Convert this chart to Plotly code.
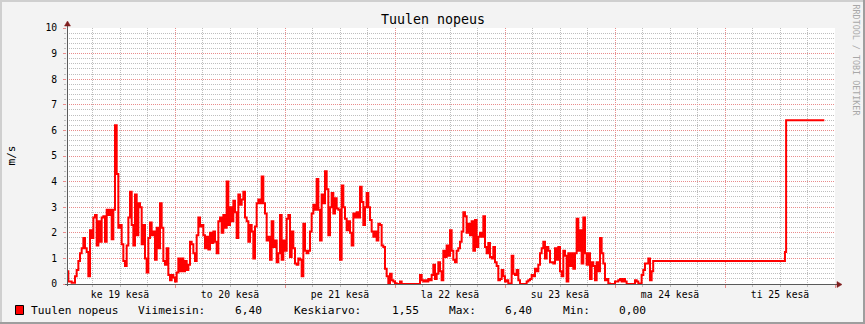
import plotly.graph_objects as go
from datetime import datetime, timedelta

# ---------------- data ----------------
series_name = "Tuulen nopeus"
unit_label = "m/s"
start_time = "2024-06-19 00:22"
step_seconds = 1309  # one sample per graph pixel-pair

wind_speed = [
    # 19.-20.6.
    0.5, 0.1, 0.1, 0.05, 0.05, 0.3, 0.55, 0.9, 1.2, 1.4,
    1.8, 1.4, 1.25, 0.3, 2.1, 1.8, 2.6, 2.7, 1.5, 2.45,
    1.65, 2.6, 2.65, 1.65, 2.9, 2.7, 2.9, 1.75, 2.9, 6.2,
    4.3, 2.2, 2.3, 1.55, 0.9, 0.7, 1.5, 2.6, 3.6, 2.3,
    1.5, 3.5, 1.9, 3.15, 3.0, 1.55, 2.3, 1.0, 0.45, 1.8,
    2.4, 1.9, 2.05, 0.95, 2.2, 1.4, 3.15, 2.2, 0.9, 0.75,
    1.4, 0.35, 0.15, 0.35, 0.25, 0.1, 0.45, 1.0, 0.5, 1.0,
    0.5, 0.9, 0.55, 0.75, 1.65, 1.55, 1.2, 0.9, 1.9, 2.6,
    2.25, 2.3, 1.9, 1.4, 1.85, 1.35, 2.0, 1.6, 2.05, 1.65,
    1.2, 2.45, 2.6, 2.0, 2.7, 2.2, 4.0, 2.3, 3.0, 2.45,
    3.25, 2.8, 1.8, 3.5, 3.1, 3.3, 3.6, 2.6, 2.45, 1.65,
    2.3, 2.05, 1.0,
    # 20.-22.6.
    2.25, 3.15, 3.3, 3.15, 4.2, 3.15, 2.75, 1.7, 1.85, 0.95,
    2.45, 1.45, 1.7, 0.85, 1.2, 2.7, 0.95, 1.7, 1.3, 2.55,
    2.7, 1.05, 2.05, 1.4, 0.8, 0.75, 1.0, 0.95, 0.3, 2.35,
    1.3, 1.2, 1.3, 2.05, 2.75, 3.1, 2.9, 4.1, 2.9, 1.7,
    3.5, 3.15, 4.4, 3.7, 1.9, 3.0, 3.55, 2.75, 3.35, 2.95,
    2.9, 0.95, 3.85, 3.0, 2.55, 2.1, 2.45, 2.0, 1.5, 2.75,
    2.6, 2.8, 2.6, 3.8, 3.2, 2.3, 3.0, 3.55, 3.0, 2.5,
    2.05, 1.85, 2.05, 1.7, 2.35, 2.3, 1.5, 1.45, 0.6, 0.3,
    0.03, 0.4, 0.15, 0.1, 0.03, 0, 0, 0.1, 0, 0,
    0, 0, 0, 0, 0, 0, 0, 0, 0, 0.35,
    0.15, 0.1, 0.15, 0.1, 0.2, 0.15, 0.35, 0.75, 0.2, 0.4,
    0.85,
    # 22.-23.6.
    0.5, 0.15, 1.3, 1.05, 1.5, 1.1, 2.1, 1.3, 0.95, 0.85,
    1.3, 1.4, 1.65, 2.05, 2.8, 2.65, 2.0, 2.35, 1.9, 2.45,
    1.3, 2.5, 1.45, 1.85, 2.0, 1.85, 2.65, 1.45, 1.2, 1.6,
    1.05, 1.0, 1.45, 0.85, 0.7, 0.15, 0.2, 0.55, 0.3, 0.1,
    0.15, 0.02, 0.02, 1.1, 0.4, 0.35, 0.55, 0.15, 0, 0,
    0, 0, 0.1, 0.15, 0.2, 0.35, 0.3, 0.6, 0.5, 0.75,
    1.2, 1.4, 1.65, 1.0, 1.45, 1.3, 0.85, 0.85, 0.8, 1.4,
    0.95, 1.45, 0.5, 0.3, 1.3, 1.1, 0.1, 1.2, 0.7, 1.2,
    0.6, 1.2, 2.55, 1.3, 2.1, 0.8, 2.6, 1.2, 0.75, 1.2,
    0.2, 0.85, 0.7, 0.15, 0.85, 0.5, 1.8, 1.2, 0.8, 0.15,
    0.2, 0.02, 0, 0, 0, 0.1, 0.1, 0.15, 0.2, 0.1,
    0.2,
    # 24.6. early hours
    0.1, 0, 0, 0, 0, 0, 0.15, 0.1, 0, 0.02,
    0.35, 0.55, 0.8, 0.8, 1.0, 0.15, 0.5,
]

tail_times = ["2024-06-24 08:20", "2024-06-25 13:05", "2024-06-25 13:20", "2024-06-25 21:40"]
tail_speed = [0.9, 1.25, 6.4, 6.4]

day_ticks = ["2024-06-19 12:00", "2024-06-20 12:00", "2024-06-21 12:00", "2024-06-22 12:00",
             "2024-06-23 12:00", "2024-06-24 12:00", "2024-06-25 12:00"]
day_labels = ["ke 19 kesä", "to 20 kesä", "pe 21 kesä", "la 22 kesä",
              "su 23 kesä", "ma 24 kesä", "ti 25 kesä"]

legend_labels = ["Viimeisin:", "Keskiarvo:", "Max:", "Min:"]
legend_values = ["6,40", "1,55", "6,40", "0,00"]

x_range = ["2024-06-19 00:26:11", "2024-06-26 00:00"]
y_range = [0, 10]

# ---------------- build ----------------
t0 = datetime.fromisoformat(start_time)
times = [t0 + timedelta(seconds=step_seconds * i) for i in range(len(wind_speed))]
times += [datetime.fromisoformat(t) for t in tail_times]
values = wind_speed + tail_speed

# grid positions (minor positions skip the major ones so the red lines stay visible)
day0 = datetime(2024, 6, 19)
minor_x = [day0 + timedelta(hours=6 * k) for k in range(29) if k % 4 != 0]
minor_y = [round(0.2 * k, 1) for k in range(51) if k % 5 != 0]

W, H = 865, 324
L, R, T, B = 67, 835, 28, 284
FONT = "DejaVu Sans Mono"


def px(x):
    return (x - L) / (R - L)


def py(y):
    return (B - y) / (B - T)


fig = go.Figure()
fig.add_trace(go.Scatter(x=times, y=values, mode="lines",
                         line=dict(color="#FF0000", width=2, shape="hv"),
                         hoverinfo="skip", showlegend=False))
# empty helper traces so the overlay axes (grids / labels) are drawn
fig.add_trace(go.Scatter(x=[], y=[], xaxis="x2", yaxis="y", showlegend=False, hoverinfo="skip"))
fig.add_trace(go.Scatter(x=[], y=[], xaxis="x3", yaxis="y", showlegend=False, hoverinfo="skip"))
fig.add_trace(go.Scatter(x=[], y=[], xaxis="x", yaxis="y2", showlegend=False, hoverinfo="skip"))

MAJ = "rgb(233,140,140)"
MIN = "rgb(190,190,190)"
DOT = "1px,1px"

fig.update_layout(
    width=W, height=H,
    margin=dict(l=L, r=W - R, t=T, b=H - B),
    paper_bgcolor="#F3F3F3", plot_bgcolor="#FFFFFF",
    showlegend=False,
    font=dict(family=FONT, color="#000000"),
    # minor (6 h) grid
    xaxis=dict(
        type="date", range=x_range,
        tickmode="array", tickvals=minor_x,
        showticklabels=False, showgrid=True, gridcolor=MIN, griddash=DOT, gridwidth=1,
        ticks="outside", ticklen=2, tickcolor=MIN, zeroline=False, showline=False,
    ),
    # major (day) grid
    xaxis2=dict(
        type="date", range=x_range, overlaying="x", anchor="y", side="bottom",
        tickmode="linear", tick0="2024-06-19 00:00", dtick=86400000,
        showticklabels=False, showgrid=True, gridcolor=MAJ, griddash=DOT, gridwidth=1,
        ticks="outside", ticklen=3, tickcolor=MAJ, zeroline=False, showline=False,
    ),
    # day labels at noon
    xaxis3=dict(
        type="date", range=x_range, overlaying="x", anchor="y", side="bottom",
        tickmode="array", tickvals=day_ticks, ticktext=day_labels,
        showgrid=False, zeroline=False, showline=False, ticks="",
        tickfont=dict(family=FONT, size=9.7, color="#000"),
        ticklabelstandoff=3,
    ),
    yaxis=dict(
        range=y_range, tickmode="array", tickvals=minor_y,
        showticklabels=False, showgrid=True, gridcolor=MIN, griddash=DOT, gridwidth=1,
        ticks="outside", ticklen=2, tickcolor=MIN, zeroline=False, showline=False,
    ),
    yaxis2=dict(
        range=y_range, overlaying="y", anchor="x", side="left",
        tickmode="linear", tick0=0, dtick=1,
        showgrid=True, gridcolor=MAJ, griddash=DOT, gridwidth=1,
        ticks="outside", ticklen=3, tickcolor=MAJ, zeroline=False, showline=False,
        tickfont=dict(family=FONT, size=9.7, color="#000"),
        ticklabelstandoff=4,
    ),
)

shapes = []
# frame (shade)
shapes.append(dict(type="rect", xref="paper", yref="paper", x0=px(0), x1=px(W), y0=py(0), y1=py(2),
                   fillcolor="#CFCFCF", line=dict(width=0), layer="above"))
shapes.append(dict(type="rect", xref="paper", yref="paper", x0=px(0), x1=px(2), y0=py(0), y1=py(H),
                   fillcolor="#CFCFCF", line=dict(width=0), layer="above"))
shapes.append(dict(type="rect", xref="paper", yref="paper", x0=px(0), x1=px(W), y0=py(H - 2), y1=py(H),
                   fillcolor="#9E9E9E", line=dict(width=0), layer="above"))
shapes.append(dict(type="rect", xref="paper", yref="paper", x0=px(W - 2), x1=px(W), y0=py(0), y1=py(H),
                   fillcolor="#9E9E9E", line=dict(width=0), layer="above"))
# axes
AX = "#5A5A5A"
shapes.append(dict(type="line", xref="paper", yref="paper", x0=px(67.5), x1=px(67.5), y0=py(286), y1=py(25),
                   line=dict(color=AX, width=1), layer="above"))
shapes.append(dict(type="line", xref="paper", yref="paper", x0=px(65), x1=px(838), y0=py(284.5), y1=py(284.5),
                   line=dict(color=AX, width=1), layer="above"))
ARROW = "#801F1F"
shapes.append(dict(type="path", xref="paper", yref="paper",
                   path=f"M {px(64.5)},{py(26)} L {px(70.5)},{py(26)} L {px(67.5)},{py(21)} Z",
                   fillcolor=ARROW, line=dict(color=ARROW, width=0.5), layer="above"))
shapes.append(dict(type="path", xref="paper", yref="paper",
                   path=f"M {px(837)},{py(281.5)} L {px(837)},{py(287.5)} L {px(842)},{py(284.5)} Z",
                   fillcolor=ARROW, line=dict(color=ARROW, width=0.5), layer="above"))
# legend swatch
shapes.append(dict(type="rect", xref="paper", yref="paper", x0=px(15.5), x1=px(23.5), y0=py(314.5), y1=py(305.5),
                   fillcolor="#FF0000", line=dict(color="#000000", width=1), layer="above"))
fig.update_layout(shapes=shapes)

ann = []
ann.append(dict(text=series_name, xref="paper", yref="paper", x=px(432.5), y=py(19),
                xanchor="center", yanchor="middle", showarrow=False,
                font=dict(family=FONT, size=13.3, color="#000")))
ann.append(dict(text=unit_label, xref="paper", yref="paper", x=px(10.5), y=py(156), textangle=-90,
                xanchor="center", yanchor="middle", showarrow=False,
                font=dict(family=FONT, size=11.1, color="#000")))
ann.append(dict(text="RRDTOOL / TOBI OETIKER", xref="paper", yref="paper", x=px(855.5), y=py(60),
                textangle=90, xanchor="center", yanchor="middle", showarrow=False,
                font=dict(family=FONT, size=8.4, color="#A8A8A8")))

legend_x = [30.7, 137.7, 235, 293.5, 391.7, 449, 505, 563, 619]
legend_texts = [series_name]
for lab, val in zip(legend_labels, legend_values):
    legend_texts += [lab, val]
for xx, tt in zip(legend_x, legend_texts):
    ann.append(dict(text=tt, xref="paper", yref="paper", x=px(xx - 2), y=py(310),
                    xanchor="left", yanchor="middle", showarrow=False,
                    font=dict(family=FONT, size=11.2, color="#000")))
fig.update_layout(annotations=ann)

fig.write_html("out.html")
